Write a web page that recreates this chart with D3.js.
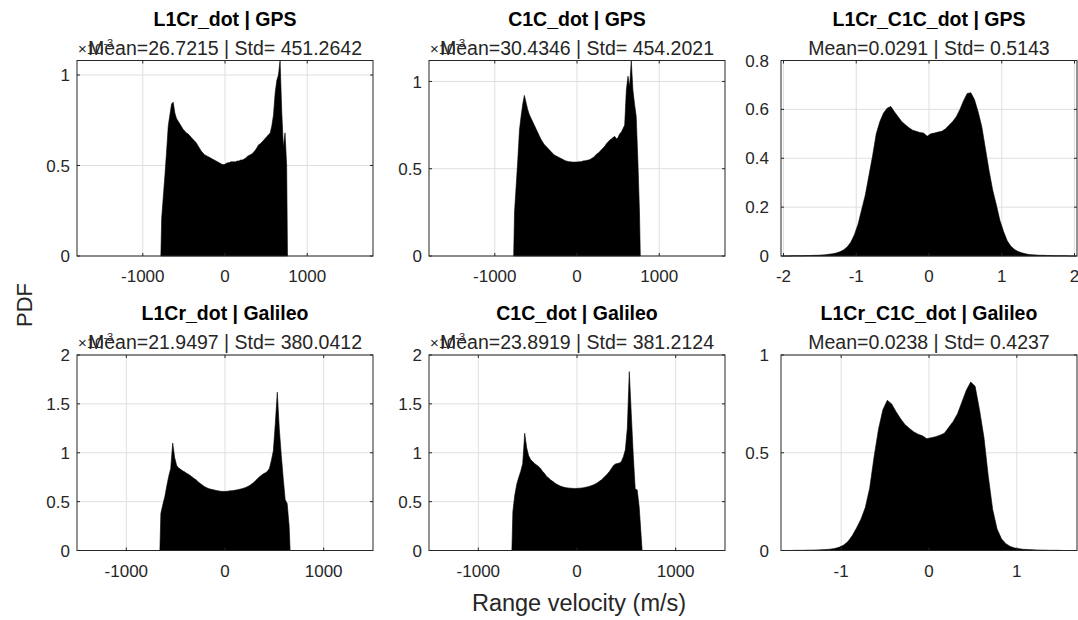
<!DOCTYPE html>
<html><head><meta charset="utf-8">
<script src="https://cdn.jsdelivr.net/npm/d3@7"></script>
<style>body{margin:0;background:#fff}svg{display:block}text{font-family:"Liberation Sans",Arial,sans-serif}</style>
</head><body><svg id="c" width="1078" height="620"></svg>
<script>
// ---------- data ----------
const panelTitles = ["L1Cr_dot | GPS", "C1C_dot | GPS", "L1Cr_C1C_dot | GPS",
                     "L1Cr_dot | Galileo", "C1C_dot | Galileo", "L1Cr_C1C_dot | Galileo"];
const panelSubtitles = ["Mean=26.7215 | Std= 451.2642", "Mean=30.4346 | Std= 454.2021", "Mean=0.0291 | Std= 0.5143",
                        "Mean=21.9497 | Std= 380.0412", "Mean=23.8919 | Std= 381.2124", "Mean=0.0238 | Std= 0.4237"];
// histogram bin edges: first edge and bin width
const binStart = [-780, -770, -2.0, -660, -660, -1.65];
const binWidth = [20, 20, 0.05, 20, 20, 0.05];
// PDF values (panels 1,2,4,5 in units of 1e-3)
const pdfL1CrGps = [0.21,0.33,0.45,0.58,0.72,0.78,0.84,0.85,0.79,0.76,0.745,0.73,0.715,0.70,0.69,0.68,0.675,0.665,0.655,0.645,0.635,0.625,0.61,0.595,0.58,0.57,0.56,0.555,0.55,0.545,0.54,0.535,0.53,0.525,0.52,0.515,0.51,0.505,0.505,
  0.51,0.515,0.515,0.52,0.52,0.52,0.52,0.525,0.525,0.53,0.53,0.535,0.54,0.55,0.555,0.56,0.565,0.575,0.585,0.60,0.615,0.62,0.63,0.64,0.65,0.66,0.67,0.68,0.72,0.78,0.90,0.97,1.00,1.08,0.80,0.60,0.68,0.50];
const pdfC1CGps = [0.25,0.40,0.55,0.72,0.80,0.87,0.92,0.88,0.84,0.81,0.79,0.77,0.75,0.73,0.71,0.69,0.67,0.655,0.64,0.63,0.62,0.61,0.60,0.59,0.58,0.575,0.57,0.565,0.56,0.555,0.55,0.545,0.543,0.54,0.54,0.538,0.538,0.538,
  0.538,0.54,0.54,0.542,0.545,0.545,0.548,0.55,0.553,0.56,0.565,0.575,0.585,0.59,0.60,0.61,0.62,0.63,0.645,0.655,0.665,0.67,0.68,0.685,0.67,0.68,0.70,0.71,0.73,0.75,0.95,1.03,0.97,1.12,0.95,0.87,0.80,0.55,0.25];
const pdfDiffGps = [0.000,0.000,0.001,0.001,0.001,0.001,0.002,0.002,0.003,0.003,0.004,0.005,0.007,0.009,0.012,0.017,0.025,0.037,0.056,0.087,0.13,0.19,0.25,0.33,0.41,0.50,0.55,0.585,0.605,0.612,0.59,0.57,0.55,0.537,0.525,0.515,0.51,0.505,0.503,0.49,
  0.50,0.503,0.507,0.51,0.52,0.535,0.55,0.57,0.60,0.635,0.665,0.668,0.64,0.59,0.53,0.44,0.35,0.27,0.21,0.145,0.10,0.062,0.04,0.027,0.018,0.013,0.009,0.006,0.005,0.004,0.003,0.003,0.002,0.002,0.001,0.001,0.001,0.001,0.000,0.000];
const pdfL1CrGal = [0.38,0.47,0.55,0.66,0.76,0.84,1.10,0.95,0.87,0.845,0.83,0.815,0.805,0.79,0.78,0.765,0.75,0.735,0.72,0.70,0.685,0.67,0.655,0.645,0.635,0.628,0.624,0.62,0.615,0.61,0.607,0.605,0.604,
  0.605,0.607,0.61,0.612,0.614,0.618,0.622,0.627,0.632,0.638,0.645,0.655,0.665,0.68,0.695,0.715,0.735,0.755,0.77,0.785,0.795,0.81,0.84,0.92,1.02,1.30,1.62,1.25,0.98,0.74,0.52,0.48,0.25];
const pdfC1CGal = [0.40,0.57,0.68,0.75,0.81,0.89,1.20,1.05,0.97,0.93,0.91,0.89,0.875,0.86,0.84,0.81,0.79,0.76,0.745,0.725,0.71,0.695,0.68,0.67,0.66,0.653,0.647,0.643,0.64,0.638,0.636,0.635,0.635,
  0.636,0.638,0.64,0.643,0.648,0.652,0.658,0.665,0.673,0.683,0.695,0.71,0.725,0.745,0.765,0.785,0.81,0.84,0.87,0.885,0.89,0.895,0.91,0.96,1.03,1.25,1.83,1.40,0.98,0.63,0.62,0.45,0.15];
const pdfDiffGal = [0.000,0.000,0.001,0.001,0.001,0.002,0.002,0.003,0.004,0.005,0.007,0.010,0.016,0.027,0.045,0.075,0.115,0.16,0.22,0.32,0.48,0.62,0.72,0.768,0.75,0.71,0.675,0.645,0.625,0.607,0.595,0.587,0.572,
  0.577,0.582,0.59,0.60,0.63,0.66,0.70,0.76,0.82,0.862,0.84,0.72,0.58,0.38,0.21,0.11,0.06,0.035,0.021,0.013,0.009,0.006,0.005,0.004,0.003,0.002,0.002,0.001,0.001,0.001,0.000,0.000,0.000];
const pdfValues = [pdfL1CrGps, pdfC1CGps, pdfDiffGps, pdfL1CrGal, pdfC1CGal, pdfDiffGal];
// axis limits and ticks
const xLimits = [[-1800,1800],[-1800,1800],[-2.034,2.034],[-1500,1500],[-1500,1500],[-1.685,1.685]];
const yLimits = [[0,1.08],[0,1.12],[0,0.8],[0,2],[0,2],[0,1]];
const xTickValues = [[-1000,0,1000],[-1000,0,1000],[-2,-1,0,1,2],[-1000,0,1000],[-1000,0,1000],[-1,0,1]];
const yTickValues = [[0,0.5,1],[0,0.5,1],[0,0.2,0.4,0.6,0.8],[0,0.5,1,1.5,2],[0,0.5,1,1.5,2],[0,0.5,1]];
const hasExponent = [true, true, false, true, true, false];
const xAxisLabel = "Range velocity (m/s)";
const yAxisLabel = "PDF";

// ---------- layout ----------
const colLeft = [77, 429, 781];
const rowTop = [60.5, 355];
const axW = 296, axH = 195.5;
const axisColor = "#262626", gridColor = "#dfdfdf";
const svg = d3.select("#c");

function fmt(v){ return String(v).replace("\u2212","-"); }

pdfValues.forEach((vals, i) => {
  const left = colLeft[i % 3], top = rowTop[Math.floor(i / 3)];
  const g = svg.append("g").attr("transform", `translate(${left},${top})`);
  const x = d3.scaleLinear().domain(xLimits[i]).range([0, axW]);
  const y = d3.scaleLinear().domain(yLimits[i]).range([axH, 0]);

  // grid
  g.selectAll(".gx").data(xTickValues[i]).enter().append("line")
    .attr("x1", d => x(d)).attr("x2", d => x(d)).attr("y1", 0).attr("y2", axH)
    .attr("stroke", gridColor).attr("stroke-width", 1);
  g.selectAll(".gy").data(yTickValues[i]).enter().append("line")
    .attr("y1", d => y(d)).attr("y2", d => y(d)).attr("x1", 0).attr("x2", axW)
    .attr("stroke", gridColor).attr("stroke-width", 1);

  // histogram as filled area through bin centers
  const s = binStart[i], w = binWidth[i];
  const pts = [[s, 0]].concat(vals.map((v, k) => [s + (k + 0.5) * w, v]), [[s + vals.length * w, 0]]);
  const area = d3.area().x(d => x(d[0])).y0(y(0)).y1(d => y(d[1]));
  g.append("path").datum(pts).attr("d", area).attr("fill", "#000").attr("stroke", "#000").attr("stroke-width", 0.6);

  // box
  g.append("rect").attr("x", 0).attr("y", 0).attr("width", axW).attr("height", axH)
    .attr("fill", "none").attr("stroke", axisColor).attr("stroke-width", 1);

  // ticks (inward, all sides)
  const tl = 3;
  xTickValues[i].forEach(t => {
    g.append("line").attr("x1", x(t)).attr("x2", x(t)).attr("y1", axH).attr("y2", axH - tl).attr("stroke", axisColor);
    g.append("line").attr("x1", x(t)).attr("x2", x(t)).attr("y1", 0).attr("y2", tl).attr("stroke", axisColor);
  });
  yTickValues[i].forEach(t => {
    g.append("line").attr("y1", y(t)).attr("y2", y(t)).attr("x1", 0).attr("x2", tl).attr("stroke", axisColor);
    g.append("line").attr("y1", y(t)).attr("y2", y(t)).attr("x1", axW).attr("x2", axW - tl).attr("stroke", axisColor);
  });

  // tick labels
  g.selectAll(".xl").data(xTickValues[i]).enter().append("text")
    .attr("x", d => x(d)).attr("y", axH + 26).attr("text-anchor", "middle")
    .attr("font-size", 17).attr("fill", axisColor).text(d => fmt(d));
  const gap = (i % 3 === 2) ? 12 : 7;
  g.selectAll(".yl").data(yTickValues[i]).enter().append("text")
    .attr("x", -gap).attr("y", d => y(d)).attr("dy", "0.36em").attr("text-anchor", "end")
    .attr("font-size", 17).attr("fill", axisColor).text(d => fmt(d));

  // exponent
  if (hasExponent[i]) {
    const e = g.append("text").attr("x", 1).attr("y", -7).attr("font-size", 15).attr("fill", axisColor);
    e.append("tspan").text("\u00d710");
    e.append("tspan").attr("dy", -7).attr("font-size", 11).text("-3");
  }

  // titles
  g.append("text").attr("x", axW / 2).attr("y", -35).attr("text-anchor", "middle")
    .attr("font-size", 19.5).attr("font-weight", "bold").attr("fill", "#000").text(panelTitles[i]);
  g.append("text").attr("x", axW / 2).attr("y", -6).attr("text-anchor", "middle")
    .attr("font-size", 19.5).attr("fill", axisColor).text(panelSubtitles[i]);
});

// shared axis labels
svg.append("text").attr("x", 579).attr("y", 611).attr("text-anchor", "middle")
  .attr("font-size", 23.5).attr("fill", axisColor).text(xAxisLabel);
svg.append("text").attr("transform", "translate(31.5,305) rotate(-90)").attr("text-anchor", "middle")
  .attr("font-size", 22).attr("fill", axisColor).text(yAxisLabel);
</script></body></html>
